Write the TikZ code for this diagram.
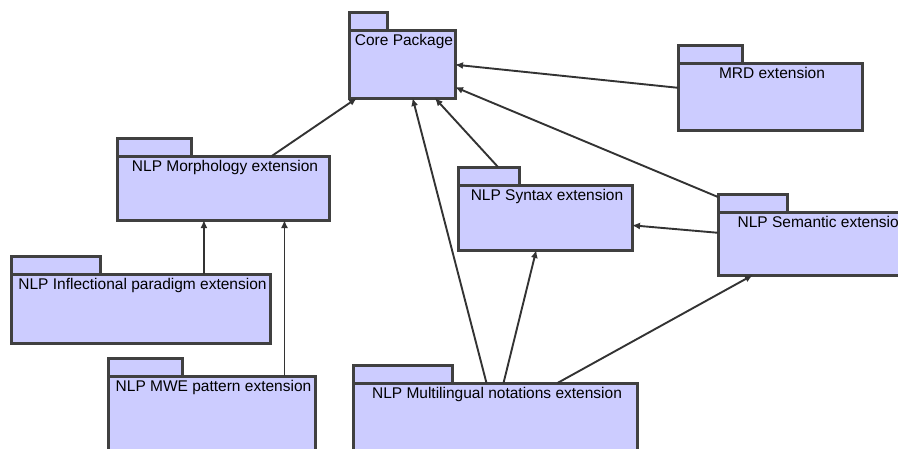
\documentclass[tikz,border=0pt]{standalone}
\usepackage{fontspec}
\setmainfont{Liberation Sans}
\usetikzlibrary{arrows.meta,calc}
\definecolor{pkgfill}{RGB}{204,204,255}
\definecolor{pkgedge}{RGB}{64,64,64}
% name, x, y (top left of body), width, height, tab width, text
\newcommand{\package}[7]{%
  \node[pkgbody,minimum width=#4pt,minimum height=#5pt,label={[pkgtext]north:#7}] (#1) at (#2,#3) {};
  \draw[pkgtab] (#1.north west) rectangle ++(#6,-18);
}

\begin{document}
\begin{tikzpicture}[x=1pt,y=-1pt,
    pkgbody/.style={draw=pkgedge,fill=pkgfill,line width=3pt,anchor=north west,inner sep=0pt,outer sep=0pt},
    pkgtab/.style={draw=pkgedge,fill=pkgfill,line width=3pt},
    pkgtext/.style={anchor=north,inner sep=4pt,xshift=2pt,font=\fontsize{15.5}{18}\selectfont},
    dep/.style={-{Latex[length=8pt,width=7pt]},line width=1.9pt,draw=black!80}]
  \useasboundingbox (0,0) rectangle (898,448);
  %packages
  \package{core}{349}{30}{106}{68}{38}{Core Package}
  \package{mrd}{678}{63}{184}{67}{64}{MRD extension}
  \package{morph}{117}{156}{212}{64}{74}{NLP Morphology extension}
  \package{syn}{458}{185}{174}{65}{61}{NLP Syntax extension}
  \package{sem}{718}{212}{205}{63}{69}{NLP Semantic extension}
  \package{infl}{11}{274}{259}{69}{89}{NLP Inflectional paradigm extension}
  \package{mwe}{108}{376}{207}{85}{74}{NLP MWE pattern extension}
  \package{multi}{353}{383}{284}{85}{99}{NLP Multilingual notations extension}
  %dependencies
  \draw[dep] ($(morph.north west)!0.73!(morph.north east)$) -- ($(core.south west)!0.075!(core.south east)$);
  \draw[dep] ($(mrd.north west)!0.37!(mrd.south west)$) -- ($(core.north east)!0.51!(core.south east)$);
  \draw[dep] ($(syn.north west)+(40,-18)$) -- ($(core.south west)!0.81!(core.south east)$);
  \draw[dep] ($(sem.north west)+(0,-15)$) -- ($(core.north east)!0.84!(core.south east)$);
  \draw[dep] ($(sem.north west)!0.33!(sem.south west)$) -- ($(syn.north east)!0.62!(syn.south east)$);
  \draw[dep] ($(multi.north west)!0.47!(multi.north east)$) -- ($(core.south west)!0.60!(core.south east)$);
  \draw[dep] ($(multi.north west)!0.53!(multi.north east)$) -- ($(syn.south west)!0.45!(syn.south east)$);
  \draw[dep] ($(multi.north west)!0.72!(multi.north east)$) -- ($(sem.south west)!0.17!(sem.south east)$);
  \coordinate (inflend) at ($(morph.south west)!0.41!(morph.south east)$);
  \coordinate (mweend) at ($(morph.south west)!0.79!(morph.south east)$);
  \draw[dep] (inflend |- infl.north) -- (inflend);
  \draw[dep] (mweend |- mwe.north) -- (mweend);
\end{tikzpicture}
\end{document}
